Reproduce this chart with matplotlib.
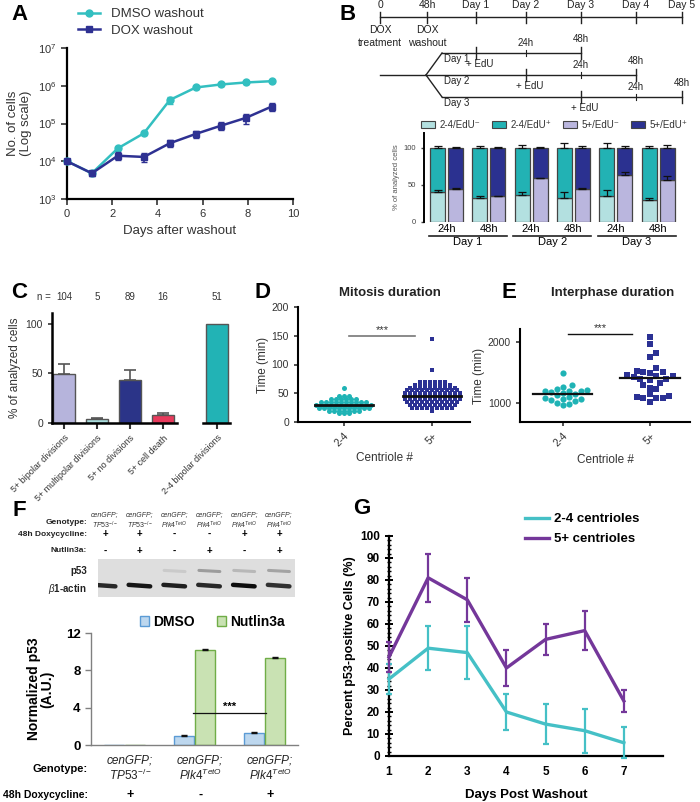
import numpy as np
import matplotlib
matplotlib.use("Agg")
import matplotlib.pyplot as plt
import matplotlib.transforms as mtransforms
from matplotlib.patches import Patch
from matplotlib.lines import Line2D
from matplotlib.ticker import NullLocator, MultipleLocator

plt.rcParams['font.family'] = ['Liberation Sans', 'DejaVu Sans']
plt.rcParams['mathtext.fontset'] = 'custom'
plt.rcParams['mathtext.rm'] = 'Liberation Sans'
plt.rcParams['mathtext.it'] = 'Liberation Sans:italic'
plt.rcParams['mathtext.bf'] = 'Liberation Sans:bold'

# ---------------- data ----------------
# A: growth curves
days_a = [0, 1.1, 2.25, 3.4, 4.55, 5.7, 6.8, 7.9, 9.05]
dmso_cells = [1e4, 4.8e3, 2.2e4, 5.5e4, 4.2e5, 9e5, 1.08e6, 1.22e6, 1.32e6]
dmso_sd = [800, 400, 2000, 4000, 90000, 60000, 70000, 80000, 80000]
dox_cells = [1e4, 4.8e3, 1.4e4, 1.3e4, 3.0e4, 5.3e4, 8.7e4, 1.4e5, 2.8e5]
dox_sd = [800, 700, 3500, 3500, 6000, 11000, 20000, 40000, 70000]

# B: timeline + EdU stacked bars
tl_pos = [380, 427, 476, 526, 581, 636, 682]
tl_lab = ['0', '48h', 'Day 1', 'Day 2', 'Day 3', 'Day 4', 'Day 5']
pair_lab = ['24h', '48h', '24h', '48h', '24h', '48h']
day_lab = ['Day 1', 'Day 2', 'Day 3']
low_24 = [40, 33, 36, 33, 35.5, 29]        # 2-4/EdU-
low_24_err = [3, 2.5, 5, 8, 7, 4]
top_24_err = [3, 2, 4, 6, 6, 3]
low_5p = [45, 35, 59, 44, 64, 57]          # 5+/EdU-
low_5p_err = [1, 0.5, 1, 1.5, 4, 5]
top_5p_err = [1.5, 0.5, 1, 2, 3, 4]
edu_labels = ['2-4/EdU\u207b', '2-4/EdU\u207a', '5+/EdU\u207b', '5+/EdU\u207a']

# C: fates
c_labels = ['5+ bipolar divisions', '5+ multipolar divisions', '5+ no divisions', '5+ cell death']
c_vals = [49, 4, 43, 8.5]
c_err = [11, 1.5, 10, 1.5]
c_n = ['104', '5', '89', '16']
c2_label = '2-4 bipolar divisions'
c2_val = 100
c2_n = '51'

# D: mitosis duration (min)
mit_24 = [15, 15, 15,
          20, 20, 20, 20, 20, 20, 20,
          25, 25, 25, 25, 25, 25, 25, 25, 25, 25, 25,
          30, 30, 30, 30, 30, 30, 30, 30, 30, 30, 30, 30,
          35, 35, 35, 35, 35, 35, 35, 35, 35, 35,
          40, 40, 40, 40, 40, 40, 45, 45, 45, 60]
mit_5p = [20,
          25, 25, 25, 25, 25, 25, 25, 25, 25,
          30, 30, 30, 30, 30, 30, 30, 30, 30, 30,
          35, 35, 35, 35, 35, 35, 35, 35, 35, 35, 35,
          40, 40, 40, 40, 40, 40, 40, 40, 40, 40, 40, 40,
          45, 45, 45, 45, 45, 45, 45, 45, 45, 45, 45, 45,
          50, 50, 50, 50, 50, 50, 50, 50, 50, 50, 50, 50,
          55, 55, 55, 55, 55, 55, 55, 55, 55, 55, 55,
          60, 60, 60, 60, 60, 60, 60, 60, 60, 60,
          65, 65, 65, 65, 65, 65, 65, 65,
          70, 70, 70, 70, 70, 70, 90, 145]
mit_med = [30, 45]

# E: interphase duration (min)
int_24 = [1490, 1290, 1270, 1230, 1210, 1200, 1200, 1190, 1180, 1170, 1150,
          1130, 1100, 1080, 1070, 1060, 1050, 1040, 1000, 990, 960]
int_5p = [2080, 1960, 1820, 1760, 1570, 1520, 1510, 1500, 1490, 1460, 1450,
          1440, 1420, 1400, 1390, 1370, 1330, 1290, 1250, 1230, 1140, 1110,
          1100, 1090, 1080, 1080, 1020]
int_med = [1150, 1410]

# F: western blot + quantification
lane_geno = ['$TP53^{-/-}$', '$TP53^{-/-}$', '$Plk4^{TetO}$', '$Plk4^{TetO}$', '$Plk4^{TetO}$', '$Plk4^{TetO}$']
lane_dox = ['+', '+', '-', '-', '+', '+']
lane_nut = ['-', '+', '-', '+', '-', '+']
p53_band = [0, 0, 0.12, 0.45, 0.25, 0.4]
actin_band = [0.85, 0.95, 0.9, 0.85, 1.0, 0.8]
f_geno = ['$TP53^{-/-}$', '$Plk4^{TetO}$', '$Plk4^{TetO}$']
f_dox = ['+', '-', '+']
dmso_p53 = [0, 1.0, 1.3]
dmso_p53_err = [0, 0.05, 0.05]
nut_p53 = [0, 10.2, 9.35]
nut_p53_err = [0, 0.06, 0.05]

# G: p53-positive cells
days_g = [1, 2, 3, 4, 5, 6, 7]
g_24 = [35, 49, 47, 20, 14.5, 11.5, 6]
g_24_err = [7, 10, 12, 8, 9, 10, 7]
g_5p = [45, 81, 71, 40, 53, 57, 25]
g_5p_err = [7, 11, 10, 8, 7, 9, 5]

# ---------------- figure ----------------
W, H = 700, 802
fig = plt.figure(figsize=(7, 8.02), dpi=100)


def box(l, t, r, b):
    return [l / W, 1 - b / H, (r - l) / W, (b - t) / H]


def ftxt(x, y, s, **kw):
    fig.text(x / W, 1 - y / H, s, **kw)


def clean(ax, lw=1.5):
    for s in ['top', 'right']:
        ax.spines[s].set_visible(False)
    for s in ['left', 'bottom']:
        ax.spines[s].set_linewidth(lw)


def swarm(ax, xc, vals, gap):
    vals = np.asarray(vals, float)
    disp = ax.transData.transform(np.column_stack([np.full(len(vals), xc), vals]))
    inv = ax.transData.inverted()
    placed = []
    xs = np.empty(len(vals))
    for i in np.argsort(vals):
        x0, y0 = disp[i]
        k = 0
        found = None
        while found is None:
            offs = [0.0] if k == 0 else [k * gap * 0.5, -k * gap * 0.5]
            for o in offs:
                if all((x0 + o - px) ** 2 + (y0 - py) ** 2 >= gap ** 2 for px, py in placed):
                    found = o
                    break
            k += 1
        placed.append((x0 + found, y0))
        xs[i] = inv.transform((x0 + found, y0))[0]
    return xs


def rows(ax, xc, vals, gap):
    # points sharing a value sit side by side in one centred row
    vals = np.asarray(vals, float)
    px_per_unit = ax.transData.transform((1, 0))[0] - ax.transData.transform((0, 0))[0]
    xs = np.empty(len(vals))
    for v in np.unique(vals):
        idx = np.where(vals == v)[0]
        n = len(idx)
        xs[idx] = xc + (np.arange(n) - (n - 1) / 2) * gap / px_per_unit
    return xs


letter_kw = dict(fontsize=16, fontweight='bold', ha='center', va='center')
for lab, x, y in [('A', 19, 15), ('B', 348, 14), ('C', 19, 293), ('D', 262, 293),
                  ('E', 509, 293), ('F', 19, 510), ('G', 362, 509)]:
    ftxt(x, y, lab, **letter_kw)

# ---------------- A ----------------
c_dmso, c_dox = '#33bfc0', '#2e3192'
axA = fig.add_axes(box(67, 48, 293, 199))
axA.set_yscale('log')
axA.errorbar(days_a, dmso_cells, yerr=dmso_sd, color=c_dmso, marker='o', ms=5,
             lw=1.8, capsize=2.5, elinewidth=1.2, clip_on=False, zorder=3)
axA.errorbar(days_a, dox_cells, yerr=dox_sd, color=c_dox, marker='s', ms=5,
             lw=1.8, capsize=2.5, elinewidth=1.2, clip_on=False, zorder=4)
axA.set_ylim(1e3, 1e7)
axA.set_xlim(0, 10)
axA.set_yticks([1e3, 1e4, 1e5, 1e6, 1e7])
axA.yaxis.set_minor_locator(NullLocator())
axA.set_xticks([0, 2, 4, 6, 8, 10])
clean(axA, 1.6)
axA.tick_params(labelsize=8, length=4, width=1.2, colors='#333')
axA.set_xlabel('Days after washout', fontsize=9.5, color='#333')
axA.set_ylabel('No. of cells\n(Log scale)', fontsize=9.5, color='#333', labelpad=4)
hA = [Line2D([], [], color=c_dmso, marker='o', ms=5, lw=1.8),
      Line2D([], [], color=c_dox, marker='s', ms=5, lw=1.8)]
fig.legend(hA, ['DMSO washout', 'DOX washout'], loc='upper left',
           bbox_to_anchor=(70 / W, 1 - 0 / H), frameon=False, fontsize=9.5,
           handlelength=1.7, labelspacing=0.35, borderpad=0.1, labelcolor='#333')

# ---------------- B timeline ----------------
axT = fig.add_axes(box(350, 0, 700, 112))
axT.set_xlim(350, 700)
axT.set_ylim(112, 0)
axT.axis('off')
tkw = dict(fontsize=7.5, color='#222')
skw = dict(fontsize=7, color='#222')
axT.plot([tl_pos[0], tl_pos[-1]], [17, 17], color='#222', lw=1)
for p, lab in zip(tl_pos, tl_lab):
    axT.plot([p, p], [12, 23], color='#222', lw=1)
    axT.text(p, 10, lab, ha='center', va='bottom', **tkw)
axT.text(tl_pos[0], 25, 'DOX\ntreatment', ha='center', va='top', linespacing=1.4, **tkw)
axT.text(tl_pos[1], 25, 'DOX\nwashout', ha='center', va='top', linespacing=1.4, **tkw)
branch_y = [53, 75, 97]
fork_x, start_x = 426, 442
axT.plot([tl_pos[0], fork_x], [75, 75], color='#222', lw=1)
for k, yb in enumerate(branch_y):
    edu, mid, end = tl_pos[2 + k], tl_pos[3 + k], tl_pos[4 + k]
    x0 = fork_x if k == 1 else start_x
    if k != 1:
        axT.plot([fork_x, start_x], [75, yb], color='#222', lw=1)
    axT.plot([x0, end], [yb, yb], color='#222', lw=1)
    axT.plot([edu, edu], [yb - 6, yb + 6], color='#222', lw=1)
    axT.plot([mid, mid], [yb - 3, yb + 3], color='#222', lw=0.8)
    axT.plot([end, end], [yb - 6, yb + 6], color='#222', lw=1)
    axT.text(edu + 4, yb + 6, '+ EdU', ha='center', va='top', **skw)
    axT.text(mid, yb - 5, '24h', ha='center', va='bottom', **skw)
    axT.text(end, yb - 9, '48h', ha='center', va='bottom', **skw)
    axT.text(444, yb + 6, day_lab[k], ha='left', va='center', **skw)

# ---------------- B bars ----------------
c_l24, c_h24, c_l5, c_h5 = '#b3e0e0', '#22b2b4', '#bab6de', '#2b3190'
axB = fig.add_axes(box(424, 133, 680, 222))
pair_x = np.arange(6) * 2.35
bx24 = pair_x - 0.5
bx5 = pair_x + 0.5
bw = 0.83
ekw = dict(fmt='none', ecolor='#111', capsize=3, elinewidth=0.9, capthick=0.9)
for bx, low, lerr, terr, cl, ch in [(bx24, low_24, low_24_err, top_24_err, c_l24, c_h24),
                                    (bx5, low_5p, low_5p_err, top_5p_err, c_l5, c_h5)]:
    low = np.array(low)
    axB.bar(bx, low, width=bw, color=cl, edgecolor='#444', lw=0.9)
    axB.bar(bx, 100 - low, bottom=low, width=bw, color=ch, edgecolor='#444', lw=0.9)
    axB.errorbar(bx, low, yerr=[np.zeros(6), lerr], **ekw)
    axB.errorbar(bx, np.full(6, 100), yerr=[np.zeros(6), terr], **ekw)
axB.set_xlim(-1.25, 12.97)
axB.set_ylim(0, 120)
axB.set_yticks([0, 50, 100])
axB.set_xticks([])
for s in ['top', 'right', 'bottom']:
    axB.spines[s].set_visible(False)
axB.spines['left'].set_linewidth(1.4)
axB.tick_params(labelsize=5.5, length=2.5, width=1, colors='#444')
axB.set_ylabel('% of analyzed cells', fontsize=5.5, color='#555', labelpad=2)
for k, px in enumerate(pair_x):
    axB.text(px, -8.8, pair_lab[k], ha='center', va='center', fontsize=8, clip_on=False)
for k in range(3):
    axB.plot([pair_x[2 * k] - 1.0, pair_x[2 * k + 1] + 1.0], [-19, -19], color='#222',
             lw=1.2, clip_on=False)
    axB.text((pair_x[2 * k] + pair_x[2 * k + 1]) / 2, -26.5, day_lab[k], ha='center',
             va='center', fontsize=8, clip_on=False)
fig.legend([Patch(facecolor=c, edgecolor='#444', lw=0.8) for c in [c_l24, c_h24, c_l5, c_h5]],
           edu_labels, loc='center', bbox_to_anchor=(554 / W, 1 - 125 / H), ncol=4,
           fontsize=7, frameon=False, handlelength=1.5, handleheight=0.8,
           columnspacing=1.2, handletextpad=0.4, labelcolor='#333')

# ---------------- C ----------------
c_colors = ['#b6b4dc', '#a9dcdc', '#2b3488', '#e83a5c']
c2_color = '#22b3b5'
axC1 = fig.add_axes(box(52, 313, 177, 423))
axC2 = fig.add_axes(box(203, 313, 230, 423))
xc = np.arange(4)
axC1.bar(xc, c_vals, width=0.67, color=c_colors, edgecolor='#555', lw=1)
axC1.errorbar(xc, c_vals, yerr=[np.zeros(4), c_err], fmt='none', ecolor='#555',
              capsize=4, elinewidth=1.2, capthick=1.2)
axC2.bar([0], [c2_val], width=0.67, color=c2_color, edgecolor='#555', lw=1)
axC1.set_xlim(-0.36, 3.42)
axC2.set_xlim(-0.42, 0.39)
for ax in (axC1, axC2):
    ax.set_ylim(0, 111)
    clean(ax, 1.8)
    ax.tick_params(axis='x', length=4, width=1.5, labelsize=6.5, colors='#333')
axC1.tick_params(axis='y', labelsize=7.5, length=3, width=1.2, colors='#333')
axC1.set_yticks([0, 50, 100])
axC2.spines['left'].set_visible(False)
axC2.set_yticks([])
axC1.set_xticks(xc)
axC1.set_xticklabels(c_labels, rotation=45, ha='right', rotation_mode='anchor')
axC2.set_xticks([0])
axC2.set_xticklabels([c2_label], rotation=45, ha='right', rotation_mode='anchor')
axC1.set_ylabel('% of analyzed cells', fontsize=8.5, color='#333', labelpad=3)
ftxt(44, 297, 'n =', fontsize=7, ha='center', va='center', color='#333')
trC1 = mtransforms.blended_transform_factory(axC1.transData, fig.transFigure)
trC2 = mtransforms.blended_transform_factory(axC2.transData, fig.transFigure)
for x, n in zip(xc, c_n):
    axC1.text(x, 1 - 297 / H, n, transform=trC1, fontsize=7, ha='center', va='center', color='#333')
axC2.text(0, 1 - 297 / H, c2_n, transform=trC2, fontsize=7, ha='center', va='center', color='#333')

# ---------------- D ----------------
c_sc24, c_sc5 = '#1fb3b5', '#2b3194'
axD = fig.add_axes(box(298, 307, 470, 422))
axD.set_xlim(-0.52, 1.43)
axD.set_ylim(0, 200)
xs24 = rows(axD, 0, mit_24, 5.0)
xs5 = rows(axD, 1, mit_5p, 5.0)
axD.scatter(xs24, mit_24, s=13, marker='o', color=c_sc24, lw=0, zorder=3)
axD.scatter(xs5, mit_5p, s=12, marker='s', color=c_sc5, lw=0, zorder=3)
for x, m in zip([0, 1], mit_med):
    axD.plot([x - 0.33, x + 0.33], [m, m], color='#111', lw=2, zorder=4)
axD.plot([0.06, 0.81], [150, 150], color='#777', lw=1.2)
axD.text(0.435, 152, '***', ha='center', va='bottom', fontsize=8, color='#333')
clean(axD, 1.5)
axD.set_yticks([0, 50, 100, 150, 200])
axD.set_xticks([0, 1])
axD.set_xticklabels(['2-4', '5+'], rotation=45, ha='right', rotation_mode='anchor')
axD.tick_params(labelsize=7.5, length=3, width=1.2, colors='#333')
axD.set_ylabel('Time (min)', fontsize=8.5, color='#333', labelpad=2)
axD.set_xlabel('Centriole #', fontsize=8.5, color='#333', labelpad=2)
ftxt(390, 293, 'Mitosis duration', fontsize=9.5, fontweight='bold', ha='center',
     va='center', color='#222')

# ---------------- E ----------------
axE = fig.add_axes(box(520, 329, 690, 422))
axE.set_xlim(-0.49, 1.46)
axE.set_ylim(690, 2210)
xe24 = swarm(axE, 0, int_24, 6.0)
xe5 = swarm(axE, 1, int_5p, 6.5)
axE.scatter(xe24, int_24, s=20, marker='o', color=c_sc24, lw=0, zorder=3)
axE.scatter(xe5, int_5p, s=20, marker='s', color=c_sc5, lw=0, zorder=3)
for x, m in zip([0, 1], int_med):
    axE.plot([x - 0.34, x + 0.34], [m, m], color='#111', lw=1.6, zorder=4)
axE.plot([0.06, 0.8], [2130, 2130], color='#111', lw=1)
axE.text(0.43, 2145, '***', ha='center', va='bottom', fontsize=8, color='#333')
clean(axE, 1.5)
axE.set_yticks([1000, 2000])
axE.set_xticks([0, 1])
axE.set_xticklabels(['2-4', '5+'], rotation=45, ha='right', rotation_mode='anchor')
axE.tick_params(labelsize=7.5, length=3, width=1.2, colors='#333')
axE.set_ylabel('Time (min)', fontsize=8.5, color='#333', labelpad=2)
axE.set_xlabel('Centriole #', fontsize=8.5, color='#333', labelpad=4)
ftxt(613, 293, 'Interphase duration', fontsize=9.5, fontweight='bold', ha='center',
     va='center', color='#222')

# ---------------- F blot ----------------
axBl = fig.add_axes(box(98, 559, 295, 597))
axBl.set_xlim(-0.2, 5.46)
axBl.set_ylim(0, 1)
axBl.set_facecolor('#dedede')
axBl.set_xticks([])
axBl.set_yticks([])
for s in axBl.spines.values():
    s.set_visible(False)
for i, (p, a) in enumerate(zip(p53_band, actin_band)):
    if p > 0:
        g = 0.86 - 0.55 * p
        axBl.plot([i - 0.3, i + 0.3], [0.70, 0.67], color=(g, g, g), lw=2.2,
                  solid_capstyle='round')
    g = 0.75 - 0.7 * a
    axBl.plot([i - 0.32, i + 0.3], [0.32, 0.28], color=(g, g, g), lw=3.2,
              solid_capstyle='round')
trBl = mtransforms.blended_transform_factory(axBl.transData, fig.transFigure)
hkw = dict(fontsize=6, fontweight='bold', ha='right', va='center', color='#222')
ftxt(87, 522, 'Genotype:', **hkw)
ftxt(87, 534, '48h Doxycycline:', **hkw)
ftxt(87, 551, 'Nutlin3a:', **hkw)
ftxt(87, 571, 'p53', **dict(hkw, fontsize=7))
ftxt(87, 589, r'$\beta$1-actin', **dict(hkw, fontsize=7))
for i in range(6):
    axBl.text(i, 1 - 521 / H, 'cenGFP;\n' + lane_geno[i], transform=trBl, fontsize=5,
              style='italic', ha='center', va='center', linespacing=1.1, color='#333')
    axBl.text(i, 1 - 534 / H, lane_dox[i], transform=trBl, fontsize=7, fontweight='bold',
              ha='center', va='center')
    axBl.text(i, 1 - 551 / H, lane_nut[i], transform=trBl, fontsize=7, fontweight='bold',
              ha='center', va='center')

# ---------------- F bars ----------------
c_fd, c_fde = '#bdd7ee', '#5b9bd5'
c_fn, c_fne = '#c9e2b3', '#70ad47'
axF = fig.add_axes(box(91, 633, 298, 745))
xf = np.arange(3)
bwf = 0.29
axF.bar(xf - 0.15, dmso_p53, width=bwf, color=c_fd, edgecolor=c_fde, lw=1)
axF.bar(xf + 0.15, nut_p53, width=bwf, color=c_fn, edgecolor=c_fne, lw=1)
axF.errorbar(xf[1:] - 0.15, dmso_p53[1:], yerr=dmso_p53_err[1:], fmt='none', ecolor='#111',
             capsize=2.5, elinewidth=1, capthick=1)
axF.errorbar(xf[1:] + 0.15, nut_p53[1:], yerr=nut_p53_err[1:], fmt='none', ecolor='#111',
             capsize=2.5, elinewidth=1, capthick=1)
axF.plot([0.98, 2.02], [3.4, 3.4], color='#111', lw=0.9)
axF.text(1.5, 3.5, '***', ha='center', va='bottom', fontsize=8, fontweight='bold')
axF.set_xlim(-0.48, 2.48)
axF.set_ylim(0, 12)
for s in ['top', 'right']:
    axF.spines[s].set_visible(False)
for s in ['left', 'bottom']:
    axF.spines[s].set_color('#808080')
    axF.spines[s].set_linewidth(1)
axF.set_yticks([0, 4, 8, 12])
axF.set_xticks([])
axF.tick_params(axis='y', length=4, width=1, color='#808080', labelsize=9.5)
for t in axF.get_yticklabels():
    t.set_fontweight('bold')
axF.set_ylabel('Normalized p53\n(A.U.)', fontsize=10, fontweight='bold', linespacing=1.0,
               labelpad=8)
fig.legend([Patch(facecolor=c_fd, edgecolor=c_fde), Patch(facecolor=c_fn, edgecolor=c_fne)],
           ['DMSO', 'Nutlin3a'], loc='center', bbox_to_anchor=(212 / W, 1 - 622 / H),
           ncol=2, frameon=False, prop={'weight': 'bold', 'size': 10}, handlelength=0.7,
           handleheight=0.7, handletextpad=0.25, columnspacing=1.6, borderpad=0.1)
trF = mtransforms.blended_transform_factory(axF.transData, fig.transFigure)
ftxt(88, 769, 'Genotype:', fontsize=8, fontweight='bold', ha='right', va='center')
ftxt(88, 795, '48h Doxycycline:', fontsize=7.5, fontweight='bold', ha='right', va='center')
for i in range(3):
    axF.text(xf[i] + 0.08, 1 - 769 / H, 'cenGFP;\n' + f_geno[i], transform=trF, fontsize=8.5,
             style='italic', ha='center', va='center', linespacing=1.1, color='#222')
    axF.text(xf[i] + 0.08, 1 - 795 / H, f_dox[i], transform=trF, fontsize=9, fontweight='bold',
             ha='center', va='center')

# ---------------- G ----------------
c_g24, c_g5 = '#45c0c6', '#74379a'
axG = fig.add_axes(box(389, 536, 663, 756))
h24 = axG.errorbar(days_g, g_24, yerr=g_24_err, color=c_g24, lw=2.4, elinewidth=1.6,
                   capsize=2.5, capthick=1.6, clip_on=False, zorder=3)
h5 = axG.errorbar(days_g, g_5p, yerr=g_5p_err, color=c_g5, lw=2.4, elinewidth=1.6,
                  capsize=2.5, capthick=1.6, clip_on=False, zorder=3)
for bars in (h24, h5):
    for art in bars.lines[1] + bars.lines[2]:
        art.set_clip_on(False)
axG.set_xlim(1, 8)
axG.set_ylim(0, 100)
clean(axG, 1.6)
axG.set_yticks(np.arange(0, 101, 10))
axG.yaxis.set_minor_locator(MultipleLocator(2))
axG.set_xticks(days_g)
axG.tick_params(axis='y', which='major', direction='inout', length=6, width=1.4, labelsize=8.5)
axG.tick_params(axis='y', which='minor', direction='inout', length=3, width=1)
axG.tick_params(axis='x', length=0, pad=7, labelsize=8.5)
for t in axG.get_xticklabels() + axG.get_yticklabels():
    t.set_fontweight('bold')
axG.set_ylabel('Percent p53-positive Cells (%)', fontsize=9, fontweight='bold', labelpad=3)
axG.set_xlabel('Days Post Washout', fontsize=9.5, fontweight='bold', labelpad=8)
fig.legend([h24.lines[0], h5.lines[0]], ['2-4 centrioles', '5+ centrioles'], loc='upper left',
           bbox_to_anchor=(525 / W, 1 - 513 / H), frameon=False,
           prop={'weight': 'bold', 'size': 9.5}, handlelength=1.8, labelspacing=0.6,
           handletextpad=0.4, borderpad=0, borderaxespad=0)

fig.savefig('out.png', dpi=100)
